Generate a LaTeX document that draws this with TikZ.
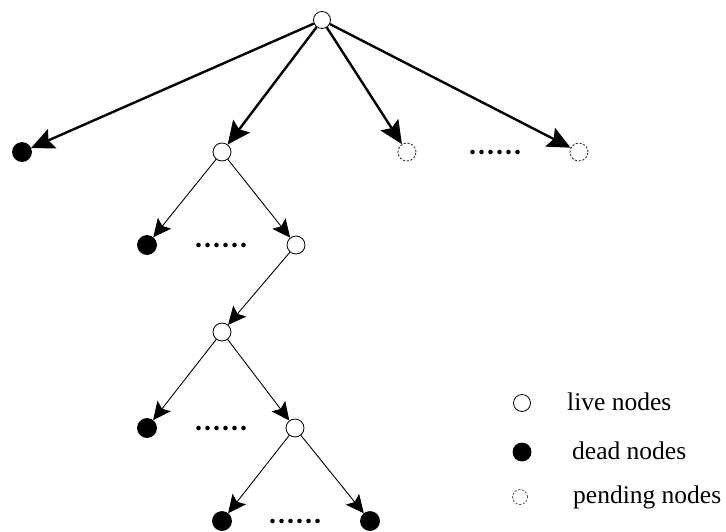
\documentclass[tikz,border=0pt]{standalone}
\usepackage{fontspec}
\setmainfont{Liberation Serif}
\usetikzlibrary{arrows.meta}
\begin{document}
\begin{tikzpicture}[x=1pt,y=-1pt,
  nd/.style={circle,inner sep=0pt,minimum size=18pt,line width=0.8pt},
  live/.style={nd,draw=black,fill=white},
  dead/.style={nd,draw=black,fill=black,minimum size=19pt},
  pend/.style={nd,draw=black!85,dash pattern=on 2.2pt off 1.6pt,line width=0.8pt},
  thick arr/.style={line width=2.4pt,-{Stealth[length=23pt,width=21pt,inset=4pt]}},
  thin arr/.style={line width=0.9pt,-{Stealth[length=18pt,width=17pt,inset=3.5pt]}},
  lab/.style={anchor=base west,font=\fontsize{25.5}{28}\selectfont,inner sep=0pt},
  dotsn/.style={inner sep=0pt,minimum width=50pt,minimum height=6pt}
]
\useasboundingbox (0,0) rectangle (726,531);
% nodes
\node[live,minimum size=17pt] (r) at (322,20) {};
\node[dead] (a1) at (22,152) {};
\node[live] (a2) at (222,152) {};
\node[pend] (a3) at (407,152) {};
\node[pend] (a4) at (579,152) {};
\node[dotsn] (d1) at (495,152) {};
\node[dead] (b1) at (147,245) {};
\node[dotsn] (d2) at (221,245) {};
\node[live] (b2) at (296,245) {};
\node[live] (c1) at (222,332) {};
\node[dead] (e1) at (147,428) {};
\node[dotsn] (d3) at (221,428) {};
\node[live] (e2) at (295,428) {};
\node[dead] (f1) at (222,521) {};
\node[dotsn] (d4) at (295,521) {};
\node[dead] (f2) at (370,521) {};
% dots
\foreach \k in {0,...,5}{
  \fill ([xshift=-22.5pt+9pt*\k]d1.center) circle (2.3pt);
  \fill ([xshift=-22.5pt+9pt*\k]d2.center) circle (2.3pt);
  \fill ([xshift=-22.5pt+9pt*\k]d3.center) circle (2.3pt);
  \fill ([xshift=-22.5pt+9pt*\k]d4.center) circle (2.3pt);
}
% edges
\draw[thick arr] (r) -- (a1);
\draw[thick arr] (r) -- (a2);
\draw[thick arr] (r) -- (a3);
\draw[thick arr] (r) -- (a4);
\draw[thin arr] (a2) -- (b1);
\draw[thin arr] (a2) -- (b2);
\draw[thin arr] (b2) -- (c1);
\draw[thin arr] (c1) -- (e1);
\draw[thin arr] (c1) -- (e2);
\draw[thin arr] (e2) -- (f1);
\draw[thin arr] (e2) -- (f2);
% legend
\node[live,minimum size=17pt] (l1) at (522,403) {};
\node[dead,minimum size=18pt] (l2) at (522,452) {};
\node[pend,minimum size=15pt,line width=0.6pt] (l3) at (520,497) {};
\node[lab] (t1) at (567,410) {live nodes};
\node[lab] (t2) at (572,459) {dead nodes};
\node[lab] (t3) at (573,503) {pending nodes};
\end{tikzpicture}
\end{document}
